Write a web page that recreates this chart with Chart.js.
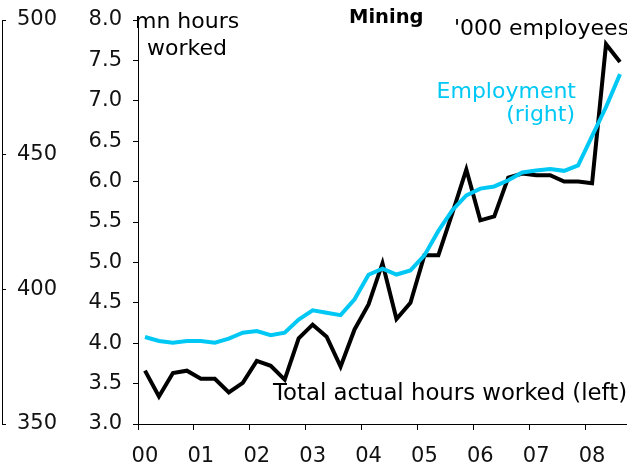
<!DOCTYPE html>
<html>
<head>
<meta charset="utf-8">
<script src="https://cdn.jsdelivr.net/npm/chart.js@4"></script>
<style>
  html, body { margin: 0; padding: 0; background: #fff; }
  #wrap { width: 627px; height: 466px; }
</style>
</head>
<body>
<div id="wrap"><canvas id="myChart"></canvas></div>
<script>
// quarterly, 2000 Q1 - 2008 Q3
let quarters = ['00Q1', '00Q2', '00Q3', '00Q4', '01Q1', '01Q2', '01Q3', '01Q4',
                '02Q1', '02Q2', '02Q3', '02Q4', '03Q1', '03Q2', '03Q3', '03Q4',
                '04Q1', '04Q2', '04Q3', '04Q4', '05Q1', '05Q2', '05Q3', '05Q4',
                '06Q1', '06Q2', '06Q3', '06Q4', '07Q1', '07Q2', '07Q3', '07Q4',
                '08Q1', '08Q2', '08Q3'];

let yearLabels = ['00', '01', '02', '03', '04', '05', '06', '07', '08'];

// total actual hours worked, mn hours (left scale)
let hoursWorked = [3.66, 3.34, 3.63, 3.66, 3.56, 3.56, 3.39, 3.51, 3.78, 3.72, 3.55, 4.06,
                   4.23, 4.08, 3.71, 4.17, 4.48, 4.99, 4.30, 4.50, 5.09, 5.09, 5.61, 6.15,
                   5.52, 5.57, 6.05, 6.10, 6.08, 6.08, 6.00, 6.00, 5.98, 7.70, 7.48];

// employment, '000 employees (right scale)
let employment = [382.3, 380.8, 380.2, 380.8, 380.8, 380.2, 381.7, 383.9, 384.5, 383.0, 383.9, 388.8,
                  392.2, 391.3, 390.4, 396.3, 405.4, 407.7, 405.5, 407.0, 412.6, 421.7, 429.4, 434.9,
                  437.4, 438.2, 440.5, 443.4, 444.1, 444.7, 444.0, 446.0, 456.9, 467.7, 479.9];

const cyan = '#00c8f5';
const tickFont = { family: 'DejaVu Sans', size: 21 };

// text written on the chart
const notes = {
    id: 'notes',
    afterDraw(chart) {
        const ctx = chart.ctx;
        ctx.save();
        ctx.textBaseline = 'alphabetic';
        ctx.fillStyle = '#000';
        ctx.font = 'bold 19.5px "DejaVu Sans"';
        ctx.fillText('Mining', 349, 23);
        ctx.font = '22px "DejaVu Sans"';
        ctx.fillText('mn hours', 135, 28);
        ctx.fillText('worked', 147, 55);
        ctx.fillText("'000 employees", 454, 35);
        ctx.font = '22.8px "DejaVu Sans"';
        ctx.fillText('Total actual hours worked (left)', 273, 400);
        ctx.font = '22px "DejaVu Sans"';
        ctx.fillStyle = cyan;
        ctx.textAlign = 'right';
        ctx.fillText('Employment', 576, 98);
        ctx.fillText('(right)', 575, 121);
        ctx.restore();
    }
};

const chart = document.getElementById('myChart').getContext('2d');
const myChart = new Chart(chart, {
    type: 'line',
    data: {
        labels: quarters,
        datasets: [{
            label: 'Employment (right)',
            data: employment,
            yAxisID: 'y2',
            borderColor: cyan,
            borderWidth: 4,
            pointRadius: 0,
            tension: 0,
            order: 0
        }, {
            label: 'Total actual hours worked (left)',
            data: hoursWorked,
            yAxisID: 'y',
            borderColor: '#000',
            borderWidth: 4,
            pointRadius: 0,
            tension: 0,
            order: 1
        }]
    },
    options: {
        responsive: true,
        maintainAspectRatio: false,
        animation: false,
        layout: { padding: { top: 20, right: 0, bottom: 0, left: 0 } },
        plugins: {
            legend: { display: false },
            tooltip: { enabled: false }
        },
        scales: {
            x: {
                type: 'category',
                offset: true,
                grid: {
                    offset: true,
                    drawOnChartArea: false,
                    tickLength: 6,
                    tickColor: ctx => (ctx.index !== undefined && ctx.index % 4 === 0) ? '#000' : 'rgba(0,0,0,0)'
                },
                border: { color: '#000' },
                ticks: {
                    autoSkip: false,
                    maxRotation: 0,
                    padding: 14,
                    color: '#111',
                    font: tickFont,
                    callback: (val, i) => i % 4 === 0 ? yearLabels[i / 4] : ''
                },
                afterFit: s => { s.height = 42; s.paddingLeft = 0; s.paddingRight = 0; }
            },
            y: {
                position: 'left',
                weight: 0,
                min: 3,
                max: 8,
                grid: { drawOnChartArea: false, tickLength: 5, tickColor: '#000' },
                border: { color: '#000' },
                ticks: {
                    stepSize: 0.5,
                    padding: 11,
                    color: '#111',
                    font: tickFont,
                    callback: v => v.toFixed(1)
                },
                afterFit: s => { s.width = 136; s.paddingTop = 0; s.paddingBottom = 0; }
            },
            y2: {
                position: 'left',
                weight: 10,
                min: 350,
                max: 500,
                grid: { drawOnChartArea: false, tickLength: -4, tickColor: '#000' },
                border: { color: '#000' },
                ticks: {
                    stepSize: 50,
                    mirror: true,
                    padding: 15,
                    color: '#111',
                    font: tickFont
                },
                afterFit: s => { s.width = 2; s.paddingTop = 0; s.paddingBottom = 0; }
            }
        }
    },
    plugins: [notes]
});
</script>
</body>
</html>
